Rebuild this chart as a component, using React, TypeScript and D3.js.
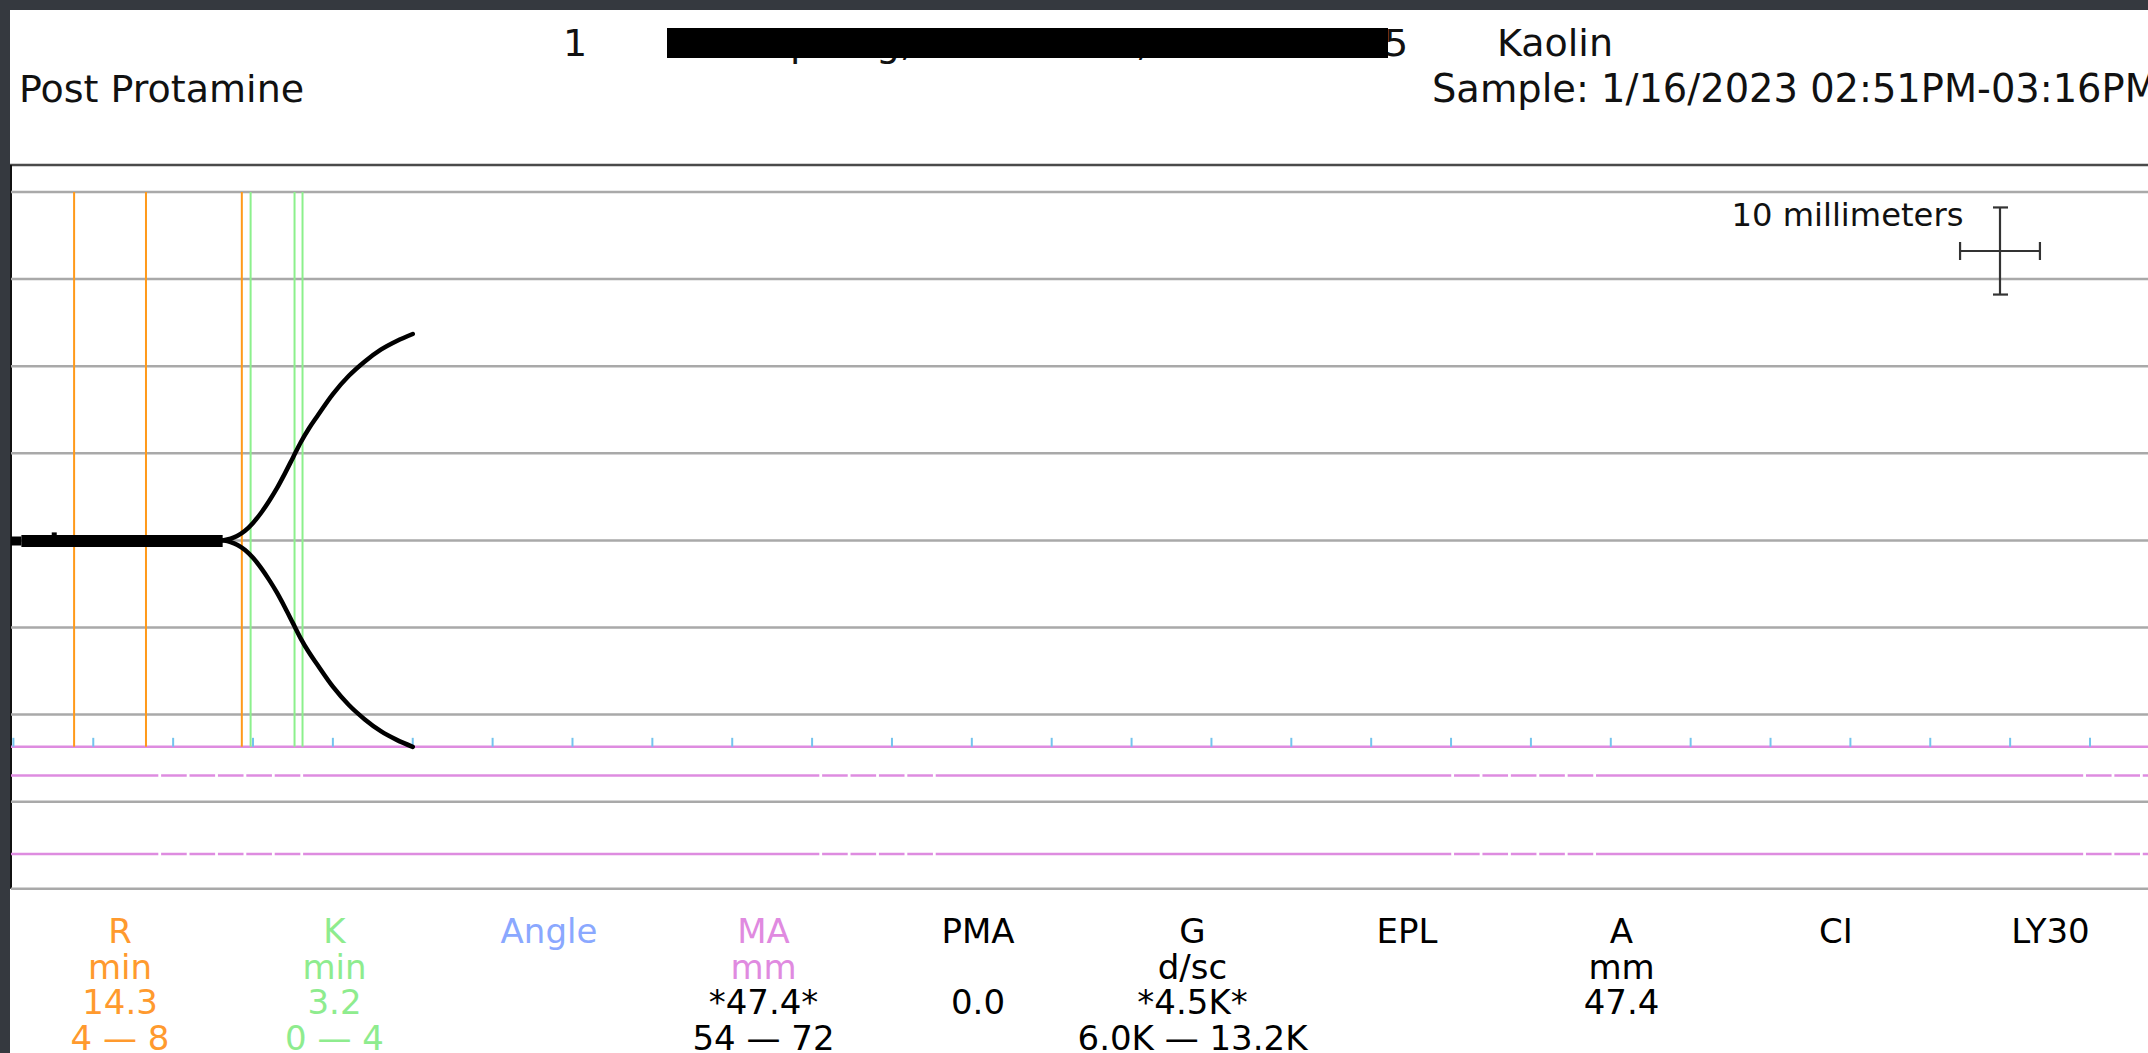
import React from 'react';
import * as d3 from 'd3';

const W = 2148;
const H = 1053;

// trace amplitude (mm) over time (min)
const traceMin = [13.1, 13.6, 14.0, 14.5, 15.0, 15.5, 16.0, 16.5, 17.0, 17.5, 18.0, 18.5, 19.0, 20.0, 21.0, 22.0, 23.0, 24.0, 25.0];
const traceAmp = [0, 0.4, 1.0, 2.2, 4.0, 6.3, 9.0, 12.0, 15.4, 19.0, 22.6, 25.7, 28.4, 33.6, 37.8, 41.1, 43.8, 45.8, 47.4];
const flatStart = 0;
const flatEnd = 13.1;

// reference lines
const rLines = [3.8, 8.3, 14.3];
const kLines = [14.85, 17.6, 18.1];
const maValue = 47.4;
const maRange = [54, 72];
// dashed stretches on the MA range lines: start minute, dash count
const dashStart = [9.16, 50.54, 90.1, 129.66];
const dashCount = [5, 4, 5, 3];

const gridHalfAmp = [-40, -30, -20, -10, 0, 10, 20, 30, 40];
const tickMinutes = d3.range(0, 135, 5);

// results table
const colNames = ['R', 'K', 'Angle', 'MA', 'PMA', 'G', 'EPL', 'A', 'CI', 'LY30'];
const colUnits = ['min', 'min', '', 'mm', '', 'd/sc', '', 'mm', '', ''];
const colValues = ['14.3', '3.2', '', '*47.4*', '0.0', '*4.5K*', '', '47.4', '', ''];
const colRanges = ['4 \u2014 8', '0 \u2014 4', '', '54 \u2014 72', '', '6.0K \u2014 13.2K', '', '', '', ''];
const colColors = ['#ff9a2e', '#8eec8e', '#8aa8ff', '#e08ae0', '#000', '#000', '#000', '#000', '#000', '#000'];

const ORANGE = '#ff9a1a';
const GREEN = '#8cf08c';
const MAGENTA = '#de8ce0';
const GRID = '#a9a9a9';
const FONT = '"DejaVu Sans", Verdana, sans-serif';

export default function App() {
  const x = d3.scaleLinear().domain([0, 130]).range([13.4, 2090]);
  const y = d3.scaleLinear().domain([-40, 40]).range([888.8, 192]);

  const pts = traceMin.map((t, i) => ({ t, a: traceAmp[i] }));
  const upper = d3.line<{ t: number; a: number }>()
    .x(d => x(d.t))
    .y(d => y(d.a / 2))
    .curve(d3.curveMonotoneX);
  const lower = d3.line<{ t: number; a: number }>()
    .x(d => x(d.t))
    .y(d => y(-d.a / 2))
    .curve(d3.curveMonotoneX);

  const left = 11;
  const top = y(40);
  const bottom = y(-40);
  const maY = y(-maValue / 2);
  const dashPeriod = 28.4;
  const half = x(2.5) - x(0);
  const vhalf = y(0) - y(5);

  const colX = (i: number) => 120 + 214.5 * i;

  return (
    <svg width={W} height={H} style={{ position: 'absolute', left: 0, top: 0, background: '#fff' }}>
      <rect x={0} y={0} width={W} height={10} fill="#35393f" />
      <rect x={0} y={0} width={10} height={H} fill="#35393f" />

      {/* header */}
      <g fontFamily={FONT} fontSize={38} fill="#111">
        <text x={563} y={56}>1</text>
        <text x={790} y={56}>p</text>
        <text x={876} y={56}>g,</text>
        <text x={1136} y={56}>,</text>
        <text x={1384} y={56}>5</text>
        <rect x={667} y={28} width={721} height={30} fill="#000" />
        <text x={1497} y={56}>Kaolin</text>
        <text x={19} y={101.5}>Post Protamine</text>
        <text x={1432} y={101.5} fontSize={38.4}>Sample: 1/16/2023 02:51PM-03:16PM</text>
      </g>

      {/* chart frame */}
      <line x1={10} x2={W} y1={165} y2={165} stroke="#4a4a4a" strokeWidth={2.5} />
      <line x1={left} x2={left} y1={165} y2={bottom} stroke="#111" strokeWidth={2} />

      {gridHalfAmp.map(g => (
        <line key={g} x1={left} x2={W} y1={y(g)} y2={y(g)} stroke={GRID} strokeWidth={2.5} />
      ))}

      {/* MA range lines */}
      {maRange.map(m => {
        const yy = y(-m / 2);
        return (
          <g key={m}>
            <line x1={left} x2={W} y1={yy} y2={yy} stroke={MAGENTA} strokeWidth={2.5} />
            {dashStart.map((s, j) =>
              d3.range(dashCount[j] + 1).map(k => (
                <line key={j + '-' + k}
                  x1={x(s) + k * dashPeriod} x2={x(s) + k * dashPeriod}
                  y1={yy - 3} y2={yy + 3} stroke="#fff" strokeWidth={2.8} />
              ))
            )}
          </g>
        );
      })}

      {/* MA line with time ticks */}
      <line x1={left} x2={W} y1={maY} y2={maY} stroke={MAGENTA} strokeWidth={2.5} />
      {tickMinutes.map(t => (
        <line key={t} x1={x(t)} x2={x(t)} y1={maY - 9} y2={maY} stroke="#74c4ee" strokeWidth={2} />
      ))}

      {/* R / K reference lines */}
      {rLines.map(t => (
        <line key={'r' + t} x1={x(t)} x2={x(t)} y1={top} y2={maY} stroke={ORANGE} strokeWidth={2} />
      ))}
      {kLines.map(t => (
        <line key={'k' + t} x1={x(t)} x2={x(t)} y1={top} y2={maY} stroke={GREEN} strokeWidth={2} />
      ))}

      {/* trace */}
      <line x1={left} x2={x(flatStart + 0.5)} y1={y(0) + 0.6} y2={y(0) + 0.6} stroke="#000" strokeWidth={9} />
      <line x1={x(flatStart + 0.5)} x2={x(flatEnd)} y1={y(0) + 0.6} y2={y(0) + 0.6} stroke="#000" strokeWidth={12} />
      <rect x={x(2.4)} y={y(0) - 8} width={5} height={4} fill="#000" />
      <path d={upper(pts) || ''} fill="none" stroke="#000" strokeWidth={4.5} strokeLinecap="round" />
      <path d={lower(pts) || ''} fill="none" stroke="#000" strokeWidth={4.5} strokeLinecap="round" />

      {/* 10 mm scale */}
      <text x={1731.5} y={226} fontFamily={FONT} fontSize={32.2} fill="#111">10 millimeters</text>
      <g stroke="#333" strokeWidth={2.2}>
        <line x1={2000 - half} x2={2000 + half} y1={251} y2={251} />
        <line x1={2000 - half} x2={2000 - half} y1={242} y2={260} />
        <line x1={2000 + half} x2={2000 + half} y1={242} y2={260} />
        <line x1={2000} x2={2000} y1={251 - vhalf} y2={251 + vhalf} />
        <line x1={1993} x2={2008} y1={251 - vhalf} y2={251 - vhalf} />
        <line x1={1993} x2={2008} y1={251 + vhalf} y2={251 + vhalf} />
      </g>

      {/* results table */}
      <g fontFamily={FONT} fontSize={34} textAnchor="middle">
        {colNames.map((n, i) => {
          const c = colColors[i];
          const valColor = i < 3 ? c : '#000';
          return (
            <g key={n}>
              <text x={colX(i)} y={943} fill={c}>{n}</text>
              <text x={colX(i)} y={979} fill={i < 4 ? c : '#000'}>{colUnits[i]}</text>
              <text x={colX(i)} y={1014} fill={valColor}>{colValues[i]}</text>
              <text x={colX(i)} y={1050} fill={valColor}>{colRanges[i]}</text>
            </g>
          );
        })}
      </g>
    </svg>
  );
}
